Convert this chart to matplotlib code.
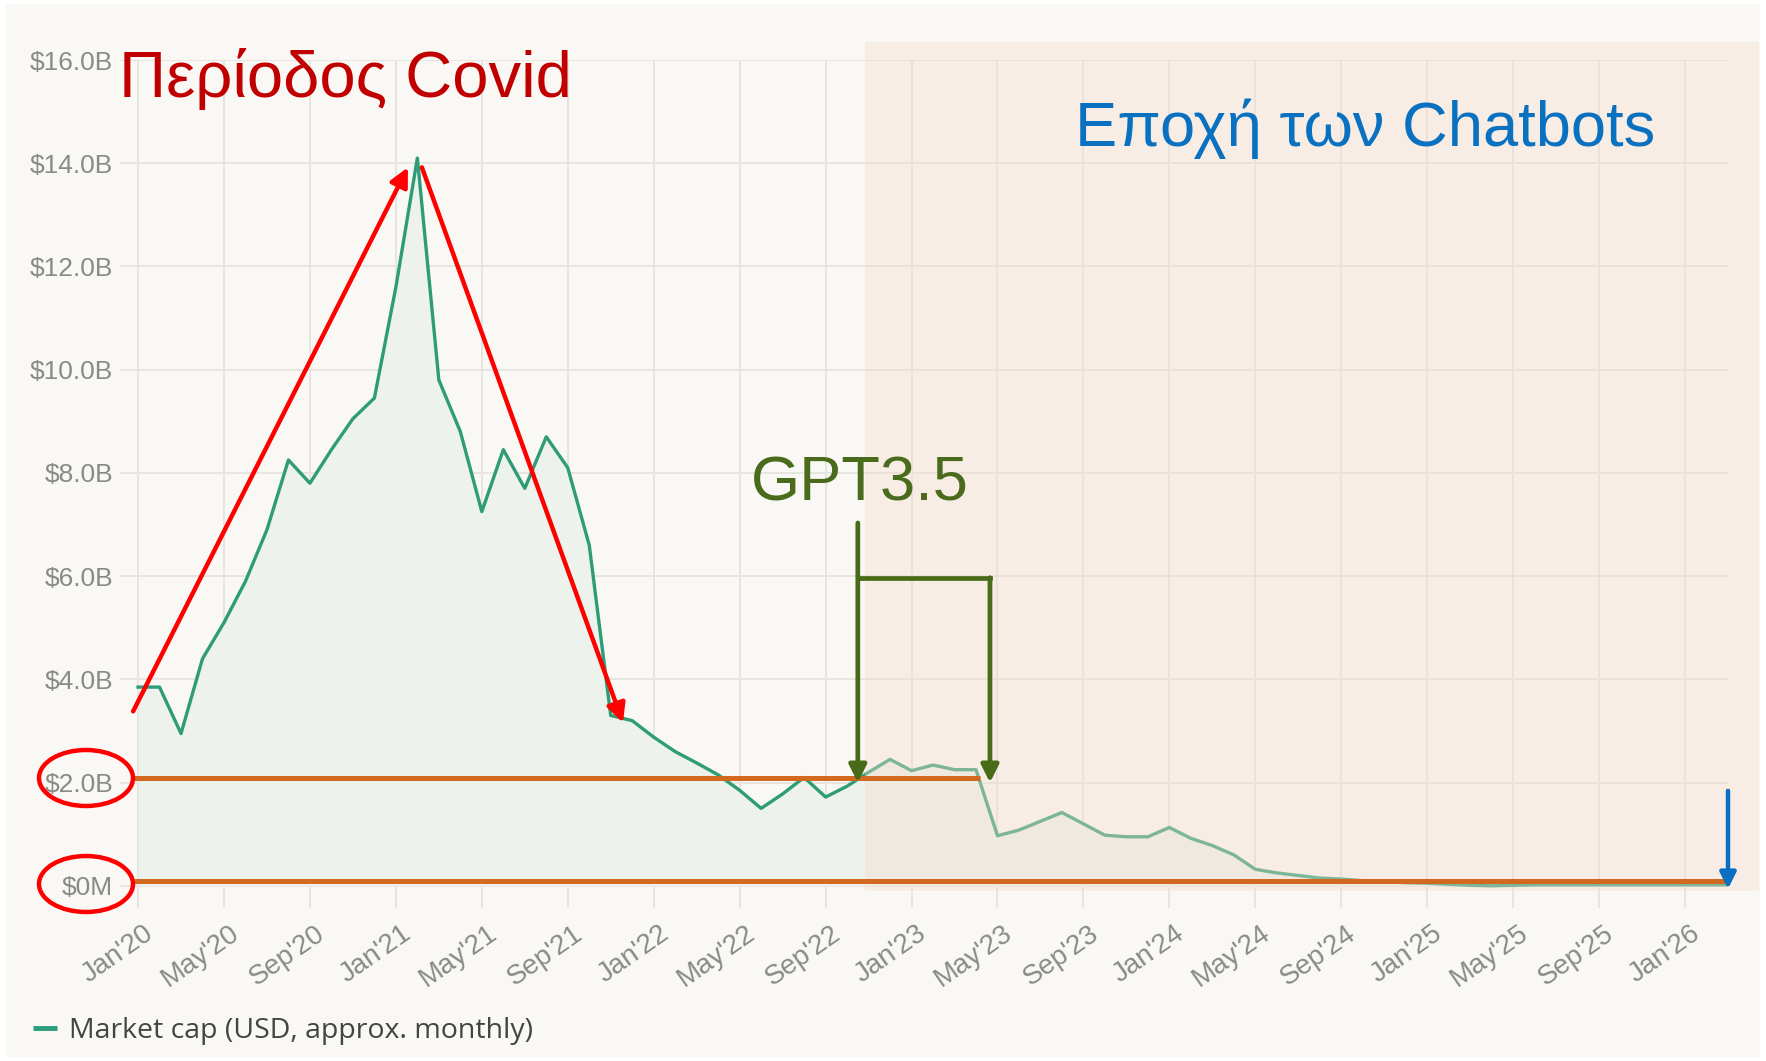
import numpy as np
import matplotlib
matplotlib.use("Agg")
import matplotlib.pyplot as plt
from matplotlib.patches import Rectangle, Ellipse
from matplotlib.lines import Line2D
import matplotlib.transforms as mtransforms

plt.rcParams['font.family'] = ['Liberation Sans', 'DejaVu Sans']

# ---------------- data ----------------
# monthly market cap (USD billions), Jan'20 .. Mar'26
market_cap_b = [3.85, 3.85, 2.95, 4.40, 5.10, 5.90, 6.90, 8.25, 7.80, 8.45, 9.05, 9.45,
                11.6, 14.1, 9.80, 8.80, 7.25, 8.45, 7.70, 8.70, 8.10, 6.60, 3.30, 3.20,
                2.88, 2.60, 2.38, 2.15, 1.85, 1.50, 1.78, 2.10, 1.72, 1.93, 2.20, 2.45,
                2.23, 2.34, 2.25, 2.25, 0.97, 1.08, 1.25, 1.42, 1.20, 0.98, 0.95, 0.95,
                1.13, 0.92, 0.78, 0.60, 0.32, 0.25, 0.20, 0.15, 0.13, 0.10, 0.08, 0.06,
                0.05, 0.03, 0.01, 0.00, 0.01, 0.02, 0.02, 0.02, 0.02, 0.02, 0.02, 0.02,
                0.02, 0.02, 0.02]
x_tick_labels = ["Jan'20", "May'20", "Sep'20", "Jan'21", "May'21", "Sep'21", "Jan'22",
                 "May'22", "Sep'22", "Jan'23", "May'23", "Sep'23", "Jan'24", "May'24",
                 "Sep'24", "Jan'25", "May'25", "Sep'25", "Jan'26"]
y_tick_values = [0, 2, 4, 6, 8, 10, 12, 14, 16]
y_tick_labels = ["$0M", "$2.0B", "$4.0B", "$6.0B", "$8.0B", "$10.0B", "$12.0B", "$14.0B", "$16.0B"]
legend_label = "Market cap (USD, approx. monthly)"

# ---------------- figure ----------------
W, H = 1766, 1061
fig = plt.figure(figsize=(W / 100, H / 100), dpi=100, facecolor='white')

def fx(px):
    return px / W

def fy(py):
    return 1 - py / H

fig.patches.append(Rectangle((fx(6), fy(1057)), fx(1760) - fx(6), fy(4) - fy(1057),
                             transform=fig.transFigure, facecolor='#f9f8f4',
                             edgecolor='none', zorder=-5))

ax = fig.add_axes([fx(120), fy(908), (1728 - 120) / W, (908 - 60) / H])
ax.set_facecolor('none')

x = np.arange(len(market_cap_b))
ax.fill_between(x, market_cap_b, 0, color='#edf2ec', zorder=1, lw=0)
line, = ax.plot(x, market_cap_b, color='#2e9c76', lw=2.4, zorder=2,
                solid_joinstyle='round')

ax.set_xlim(-0.84, x[-1])
ax.set_ylim(-0.43, 16)
ax.set_xticks(x[::4])
ax.set_xticklabels(x_tick_labels, rotation=35, ha='right', rotation_mode='anchor',
                   fontsize=20, color='#8a8a8a')
ax.set_yticks(y_tick_values)
ax.set_yticklabels(y_tick_labels, fontsize=19, color='#8a8a8a')
ax.tick_params(axis='both', length=0)
ax.tick_params(axis='x', pad=9)
ax.tick_params(axis='y', pad=5)
off = mtransforms.ScaledTranslation(5 / 100, 0, fig.dpi_scale_trans)
for lab in ax.get_xticklabels():
    lab.set_transform(lab.get_transform() + off)
ax.grid(True, color='#e6e4de', lw=1.3)
ax.set_axisbelow(True)
for s in ax.spines.values():
    s.set_visible(False)

# chatbot era overlay
ax.add_patch(Rectangle((fx(865), fy(891)), (1759 - 865) / W, (891 - 42) / H,
                       transform=fig.transFigure, facecolor=(246 / 255, 221 / 255, 204 / 255),
                       alpha=0.4, edgecolor='none', zorder=3, clip_on=False))

# orange reference lines
orange = '#d2691e'
ax.plot([-0.19, 39.2], [2.09, 2.09], color=orange, lw=3.6, solid_capstyle='butt',
        zorder=5, clip_on=False)
ax.plot([-0.19, x[-1]], [0.10, 0.10], color=orange, lw=3.6, solid_capstyle='butt',
        zorder=5, clip_on=False)

# red arrows (Covid)
red_kw = dict(arrowstyle='-|>', color='#ff0000', lw=3.2, mutation_scale=28,
              shrinkA=0, shrinkB=0)
ax.annotate('', xy=(12.56, 13.92), xytext=(-0.23, 3.38), arrowprops=red_kw,
            annotation_clip=False, zorder=6)
ax.annotate('', xy=(22.57, 3.16), xytext=(13.21, 13.92), arrowprops=red_kw,
            annotation_clip=False, zorder=6)

# GPT3.5 bracket
green = '#476b16'
g_kw = dict(arrowstyle='-|>', color=green, lw=3.4, mutation_scale=26, shrinkA=0, shrinkB=0)
ax.annotate('', xy=(33.5, 2.0), xytext=(33.5, 7.03), arrowprops=g_kw, zorder=6)
ax.annotate('', xy=(39.65, 2.0), xytext=(39.65, 5.97), arrowprops=g_kw, zorder=6)
ax.plot([33.5, 39.65], [5.97, 5.97], color=green, lw=3.4, zorder=6, solid_capstyle='projecting')

# blue arrow at end
ax.annotate('', xy=(x[-1], -0.06), xytext=(x[-1], 1.84),
            arrowprops=dict(arrowstyle='-|>', color='#0a6fc0', lw=3.2, mutation_scale=24,
                            shrinkA=0, shrinkB=0),
            annotation_clip=False, zorder=7)

# red ellipses around y labels
for cy in (778, 884):
    fig.patches.append(Ellipse((fx(86), fy(cy)), 94 / W, 56 / H, transform=fig.transFigure,
                               fill=False, edgecolor='#ff0000', lw=3.2, zorder=5))

# titles
fig.text(fx(119), fy(97), "Περίοδος Covid", fontsize=47, color='#c00000', va='baseline',
         ha='left', zorder=10)
fig.text(fx(1075), fy(146), "Εποχή των Chatbots", fontsize=45.5, color='#0a70c0',
         va='baseline', ha='left', zorder=10)
fig.text(fx(751), fy(500), "GPT3.5", fontsize=45.5, color='#4a6a1c', va='baseline',
         ha='left', zorder=10)

# legend
handle = Line2D([], [], color='#2a9d7a', lw=3.5, solid_capstyle='butt')
fig.legend(handles=[handle], labels=[legend_label], loc='center left',
           bbox_to_anchor=(fx(33), fy(1031)), bbox_transform=fig.transFigure,
           frameon=False, borderpad=0, borderaxespad=0, handlelength=0.85,
           handletextpad=0.42, labelcolor='#444444',
           prop={'family': ['Open Sans', 'DejaVu Sans'], 'size': 20.5})

fig.savefig('out.png', dpi=100, facecolor='white')
